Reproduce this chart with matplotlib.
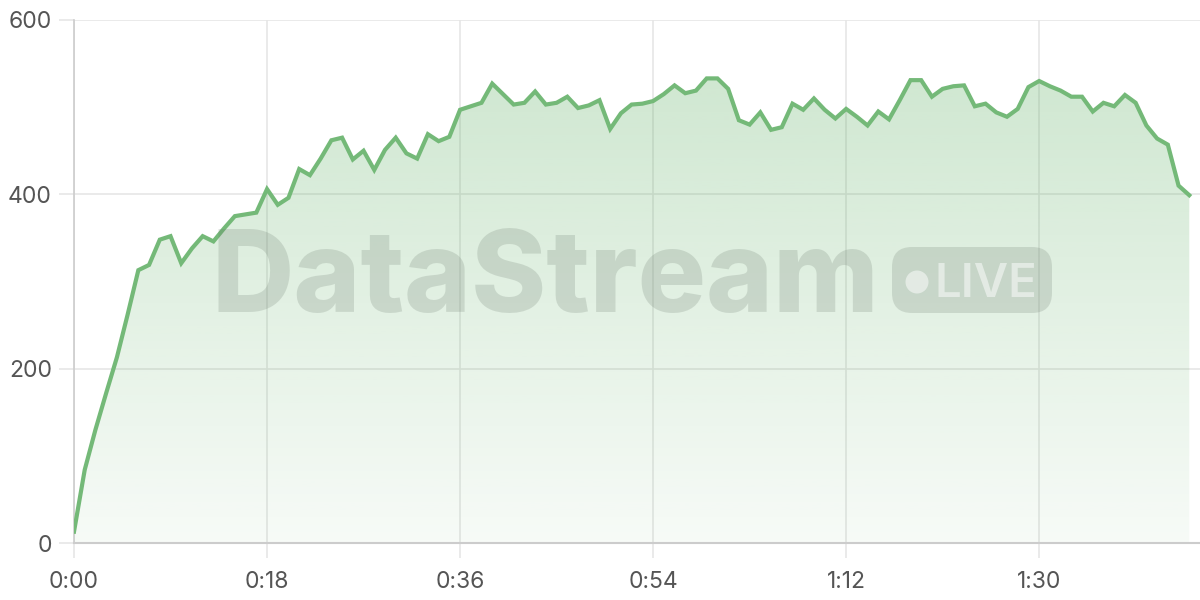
import numpy as np
import matplotlib
matplotlib.use("Agg")
import matplotlib.pyplot as plt
from matplotlib.patches import FancyBboxPatch, Ellipse
from matplotlib.ticker import FuncFormatter

# samples, one per second
values = [13, 84, 130, 172, 213, 262, 313, 319, 348, 352,
          321, 338, 352, 346, 361, 375, 377, 379, 406, 388,
          396, 429, 422, 441, 462, 465, 440, 450, 428, 451,
          465, 447, 441, 469, 461, 466, 497, 501, 505, 527,
          515, 503, 505, 518, 503, 505, 512, 499, 502, 508,
          475, 493, 503, 504, 507, 515, 525, 516, 519, 533,
          533, 521, 485, 480, 494, 474, 477, 504, 497, 510,
          497, 487, 498, 489, 479, 495, 486, 508, 531, 531,
          512, 521, 524, 525, 501, 504, 494, 489, 498, 523,
          530, 524, 519, 512, 512, 495, 505, 501, 514, 505,
          479, 464, 457, 410, 399]
seconds = np.arange(len(values))
x_ticks = [0, 18, 36, 54, 72, 90]
y_ticks = [0, 200, 400, 600]

line_col = "#74b978"
grid_col = "#e6e6e6"
text_col = "#555555"

plt.rcParams['font.family'] = ['Inter', 'DejaVu Sans']

fig = plt.figure(figsize=(12, 6), dpi=100)
ax = fig.add_axes([74/1200, 57/600, 1 - 74/1200, (543-20)/600])

ax.set_xlim(0, 105)
ax.set_ylim(0, 600)

# gradient fill under the line
fill = ax.fill_between(seconds, values, 0, color="none", lw=0)
grad = np.zeros((256, 1, 4))
c = matplotlib.colors.to_rgb("#5aad5f")
grad[:, 0, 0] = c[0]
grad[:, 0, 1] = c[1]
grad[:, 0, 2] = c[2]
grad[:, 0, 3] = np.linspace(0.05, 0.30, 256)
img = ax.imshow(grad, aspect="auto", extent=[0, 105, 0, 560], origin="lower", zorder=1)
path = fill.get_paths()[0]
img.set_clip_path(path, transform=ax.transData)

ax.plot(seconds, values, color=line_col, lw=3, zorder=3, solid_joinstyle="miter")

ax.set_xticks(x_ticks)
ax.set_yticks(y_ticks)
ax.xaxis.set_major_formatter(FuncFormatter(lambda v, p: "%d:%02d" % (int(v) // 60, int(v) % 60)))
ax.grid(True, color=grid_col, lw=1.2, zorder=0)
ax.set_axisbelow(True)
ax.tick_params(axis="both", length=11, width=1.2, color=grid_col, labelsize=16.5, labelcolor=text_col)
ax.tick_params(axis="x", pad=9)
ax.tick_params(axis="y", pad=5)
for s in ["top", "right"]:
    ax.spines[s].set_visible(False)
ax.spines["left"].set_color("#cccccc")
ax.spines["bottom"].set_color("#cccccc")
ax.spines["left"].set_linewidth(1.2)
ax.spines["bottom"].set_linewidth(1.5)

# watermark
wm_col = "#6f7d71"
fig.text(545/1200, 1 - 312/600, "DataStream", fontsize=82, fontweight="heavy",
         color=wm_col, alpha=0.22, ha="center", va="baseline", zorder=5)
box = FancyBboxPatch((892/1200, 1 - 313/600), 160/1200, 66/600,
                     boxstyle="round,pad=0,rounding_size=0.0167",
                     transform=fig.transFigure, facecolor=wm_col, alpha=0.22,
                     edgecolor="none", zorder=5, mutation_aspect=2)
fig.patches.append(box)
dot = Ellipse((917/1200, 1 - 282/600), 23/1200, 23/600, transform=fig.transFigure,
              facecolor="white", alpha=0.5, edgecolor="none", zorder=6)
fig.patches.append(dot)
fig.text(986/1200, 1 - 297/600, "LIVE", fontsize=34, fontweight="semibold",
         color="white", alpha=0.5, ha="center", va="baseline", zorder=6)

fig.savefig("out.png", dpi=100)
